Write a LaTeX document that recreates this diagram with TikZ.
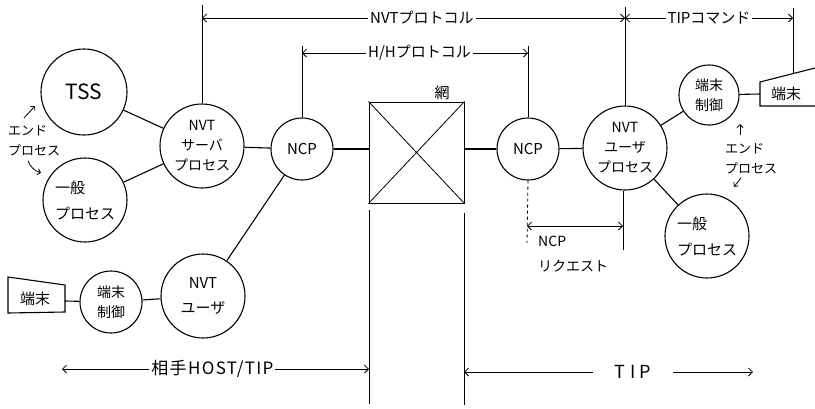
\documentclass[tikz,border=0pt]{standalone}
\usepackage{fontspec}
\setmainfont{Noto Sans CJK JP}
\usetikzlibrary{arrows.meta}
\tikzset{
  figlines/.style={line width=1.1pt},
  proc/.style={figlines, draw, circle, inner sep=0pt, align=center, font=\fontsize{14}{20}\selectfont},
  genproc/.style={proc, minimum size=84pt, align=left, font=\fontsize{15}{26}\selectfont},
  dimline/.style={line width=0.8pt},
  dimarr/.style={dimline, {Straight Barb[length=4pt,width=8pt]}-{Straight Barb[length=4pt,width=8pt]}},
  dimlbl/.style={fill=white, inner sep=2pt, font=\fontsize{15}{17}\selectfont},
  notelbl/.style={inner sep=0pt, align=left, font=\fontsize{13}{20}\selectfont},
  notearr/.style={line width=0.8pt, -{Straight Barb[length=3pt,width=6pt]}},
}

\begin{document}
\begin{tikzpicture}[x=1pt, y=-1pt]
\useasboundingbox (0,0) rectangle (815,408);
% processes
\node[proc, minimum size=86pt, font=\fontsize{21}{24}\selectfont] (tss) at (84,92) {TSS};
\node[genproc] (genl) at (85,200) {一般\\プロセス};
\node[proc, minimum size=84pt] (nvts) at (202,146) {NVT\\サーバ\\プロセス};
\node[proc, minimum size=62pt, font=\fontsize{15}{17}\selectfont] (ncpl) at (302,149) {NCP};
\node[draw, line width=1pt, minimum width=95pt, minimum height=101pt] (net) at (416.5,152.5) {};
\node[font=\fontsize{15}{15}\selectfont, anchor=south, inner sep=1pt] (netlbl) at (442,101) {網};
\node[proc, minimum size=62pt, font=\fontsize{15}{17}\selectfont] (ncpr) at (528,149) {NCP};
\node[proc, minimum size=84pt] (nvtu) at (625,148) {NVT\\ユーザ\\プロセス};
\node[proc, minimum size=60pt] (ctlr) at (709,95) {端末\\制御};
\node[genproc] (genr) at (707,236) {一般\\プロセス};
\node[proc, minimum size=62pt] (ctll) at (111,302) {端末\\制御};
\node[proc, minimum size=84pt, font=\fontsize{15}{25}\selectfont] (nvtul) at (203,296) {NVT\\ユーザ};
% terminals
\draw[figlines] (815,68) -- (760,82) -- (760,106) -- (815,106);
\node[font=\fontsize{15}{16}\selectfont] (termr) at (786,94) {端末};
\coordinate (termrw) at (760,94);
\coordinate (termrt) at (793,74);
\draw[figlines] (8,277) -- (65,285) -- (65,312) -- (8,313) -- cycle;
\node[font=\fontsize{15}{16}\selectfont] (terml) at (35,299) {端末};
\coordinate (termle) at (65,301);
% network cross
\draw[line width=0.8pt] (net.north west) -- (net.south east) (net.north east) -- (net.south west);
% links
\draw[figlines] (tss) -- (nvts);
\draw[figlines] (genl) -- (nvts);
\draw[figlines] (nvts) -- (ncpl);
\draw[figlines] (ncpl) -- (ncpl -| net.west);
\draw[figlines] (net.east |- ncpr) -- (ncpr);
\draw[figlines] (ncpr) -- (nvtu);
\draw[figlines] (nvtu) -- (ctlr);
\draw[figlines] (nvtu) -- (genr);
\draw[figlines] (ctlr) -- (termrw);
\draw[figlines] (ncpl) -- (nvtul);
\draw[figlines] (nvtul) -- (ctll);
\draw[figlines] (ctll) -- (termle);
% extension lines
\coordinate (nvtstop) at (202,5);
\coordinate (nvtutop) at (625,7);
\coordinate (ncpltop) at (302,46);
\coordinate (ncprtop) at (528,46);
\coordinate (termtop) at (793,8);
\coordinate (ncprbot) at (527,243);
\coordinate (nvtubot) at (623,250);
\coordinate (netlt) at (369,210);
\coordinate (netlb) at (369,404);
\coordinate (netrt) at (464,213);
\coordinate (netrb) at (464,405);
\draw[dimline] (nvts.north) -- (nvtstop);
\draw[dimline] (nvtu.north) -- (nvtutop);
\draw[dimline] (ncpl.north) -- (ncpltop);
\draw[dimline] (ncpr.north) -- (ncprtop);
\draw[dimline] (termrt) -- (termtop);
\draw[dimline, dashed] (ncpr.south) -- (ncprbot);
\draw[dimline] (nvtu.south -| nvtubot) -- (nvtubot);
\draw[dimline] (netlt) -- (netlb);
\draw[dimline] (netrt) -- (netrb);
% dimensions
\draw[dimarr] (nvtstop |- 0,18) -- (nvtutop |- 0,18) node[dimlbl, pos=0.52] (nvtproto) {NVTプロトコル};
\draw[dimarr] (nvtutop |- 0,18) -- (termtop |- 0,18) node[dimlbl, pos=0.5] (tipcmd) {TIPコマンド};
\draw[dimarr] (ncpltop |- 0,53) -- (ncprtop |- 0,53) node[dimlbl, pos=0.52] (hhproto) {H/Hプロトコル};
\draw[dimarr] (ncprbot |- 0,226) -- (nvtubot |- 0,226);
\node[notelbl, anchor=north west, font=\fontsize{14}{25}\selectfont] (ncpreq) at (538,236) {NCP\\リクエスト};
\draw[dimarr] (62,369) -- (netlb |- 0,369) node[dimlbl, pos=0.49, font=\fontsize{17}{19}\selectfont\addfontfeature{LetterSpace=8}] (peer) {相手HOST/TIP};
\draw[dimarr] (netrb |- 0,372) -- (753,372) node[dimlbl, pos=0.585, inner xsep=22pt, font=\fontsize{18}{20}\selectfont\addfontfeature{LetterSpace=25}] (tip) {TIP};
% end process notes
\node[notelbl, anchor=north west] (endl) at (8,125) {エンド\\プロセス};
\draw[notearr] ([shift={(16,-7)}]endl.north west) -- ++(11,-12);
\draw[notearr] ([shift={(20,5)}]endl.south west) to[bend right=25] ++(13,12);
\node[notelbl, anchor=north west] (endr) at (725,143) {エンド\\プロセス};
\draw[notearr] ([shift={(15,-8)}]endr.north west) -- ++(0,-11);
\draw[notearr] ([shift={(16,4)}]endr.south west) -- ++(-7,9);
\end{tikzpicture}
\end{document}
